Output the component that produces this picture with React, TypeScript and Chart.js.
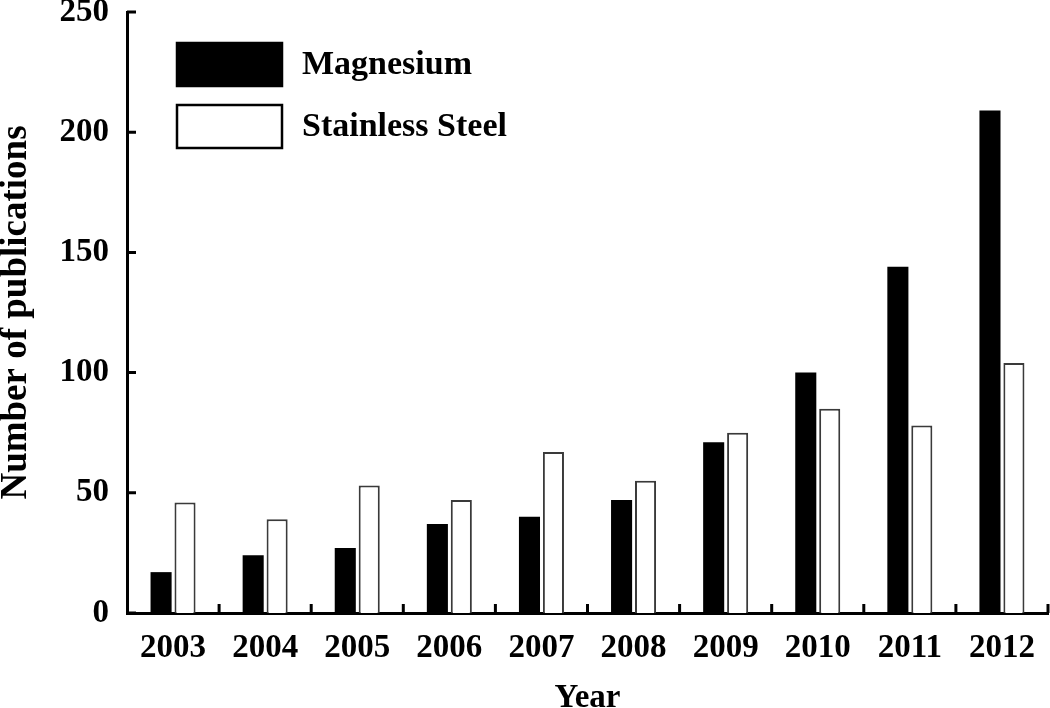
import React, { useEffect, useRef } from 'react';
import { Chart, registerables } from 'chart.js';

Chart.register(...registerables);

const years = ['2003', '2004', '2005', '2006', '2007', '2008', '2009', '2010', '2011', '2012'];
const magnesium = [17, 24, 27, 37, 40, 47, 71, 100, 144, 209];
const stainless = [46, 39, 53, 47, 67, 55, 75, 85, 78, 104];
const seriesNames = ['Magnesium', 'Stainless Steel'];
const yMin = 0;
const yMax = 250;
const yStep = 50;

const FONT = "'Liberation Serif', 'Times New Roman', serif";

const inwardTicks = {
  id: 'inwardTicks',
  afterDraw(chart: any) {
    const { ctx, chartArea } = chart;
    const x = chart.scales.x;
    const y = chart.scales.y;
    ctx.save();
    ctx.strokeStyle = '#000';
    ctx.lineWidth = 3;
    ctx.beginPath();
    y.ticks.forEach((_t: any, i: number) => {
      const py = y.getPixelForTick(i);
      ctx.moveTo(chartArea.left, py);
      ctx.lineTo(chartArea.left + 9, py);
    });
    for (let i = 0; i < years.length; i++) {
      const px = x.getPixelForValue(i + 0.5);
      ctx.moveTo(px, chartArea.bottom);
      ctx.lineTo(px, chartArea.bottom - 9);
    }
    ctx.stroke();
    ctx.restore();
  },
};

const boxLegend = {
  id: 'boxLegend',
  afterDraw(chart: any) {
    const { ctx, chartArea } = chart;
    const left = chartArea.left + 50;
    const top = chartArea.top + 31;
    const bw = 105;
    const bh = 43;
    const gap = 62;
    ctx.save();
    chart.data.datasets.forEach((ds: any, i: number) => {
      const by = top + i * gap;
      ctx.fillStyle = ds.backgroundColor;
      ctx.fillRect(left, by, bw, bh);
      ctx.strokeStyle = '#000';
      ctx.lineWidth = 2.5;
      ctx.strokeRect(left, by, bw, bh);
      ctx.fillStyle = '#000';
      ctx.font = `bold 34px ${FONT}`;
      ctx.textBaseline = 'middle';
      ctx.textAlign = 'left';
      ctx.fillText(ds.label, left + bw + 20, by + bh / 2 + 1);
    });
    ctx.restore();
  },
};

export default function App() {
  const ref = useRef<HTMLCanvasElement>(null);
  useEffect(() => {
    if (!ref.current) return;
    const chart = new Chart(ref.current, {
      type: 'bar',
      data: {
        labels: years,
        datasets: [
          {
            label: seriesNames[0],
            data: magnesium,
            backgroundColor: '#000000',
            borderWidth: 0,
          },
          {
            label: seriesNames[1],
            data: stainless,
            backgroundColor: '#ffffff',
            borderColor: '#3a3a3a',
            borderWidth: 2,
          },
        ],
      },
      options: {
        responsive: false,
        animation: false,
        layout: { padding: { top: 12, right: 2, left: 0, bottom: 0 } },
        datasets: {
          bar: { categoryPercentage: 0.52, barPercentage: 0.88 },
        },
        plugins: {
          legend: { display: false },
          tooltip: { enabled: false },
        },
        scales: {
          x: {
            grid: { display: false, drawTicks: false },
            border: { display: true, color: '#000', width: 3 },
            ticks: {
              color: '#000',
              padding: 16,
              font: { family: FONT, size: 33, weight: 'bold' },
            },
            title: {
              display: true,
              text: 'Year',
              color: '#000',
              padding: { top: 0, bottom: -10 },
              font: { family: FONT, size: 33, weight: 'bold' },
            },
            afterFit(s: any) {
              s.height = 95;
              s.paddingLeft = 0;
              s.paddingRight = 0;
            },
          },
          y: {
            min: yMin,
            max: yMax,
            grid: { display: false, drawTicks: false },
            border: { display: true, color: '#000', width: 3 },
            ticks: {
              stepSize: yStep,
              color: '#000',
              padding: 18,
              font: { family: FONT, size: 33, weight: 'bold' },
            },
            title: {
              display: true,
              text: 'Number of publications',
              color: '#000',
              padding: { top: -6, bottom: 0 },
              font: { family: FONT, size: 37, weight: 'bold' },
            },
            afterFit(s: any) {
              s.width = 127;
              s.paddingTop = 0;
              s.paddingBottom = 0;
            },
          },
        },
      },
      plugins: [inwardTicks, boxLegend],
    });
    return () => chart.destroy();
  }, []);
  return (
    <div style={{ position: 'fixed', left: 0, top: 0, width: 1050, height: 708, background: '#fff' }}>
      <canvas ref={ref} width={1050} height={708} style={{ display: 'block' }} />
    </div>
  );
}
